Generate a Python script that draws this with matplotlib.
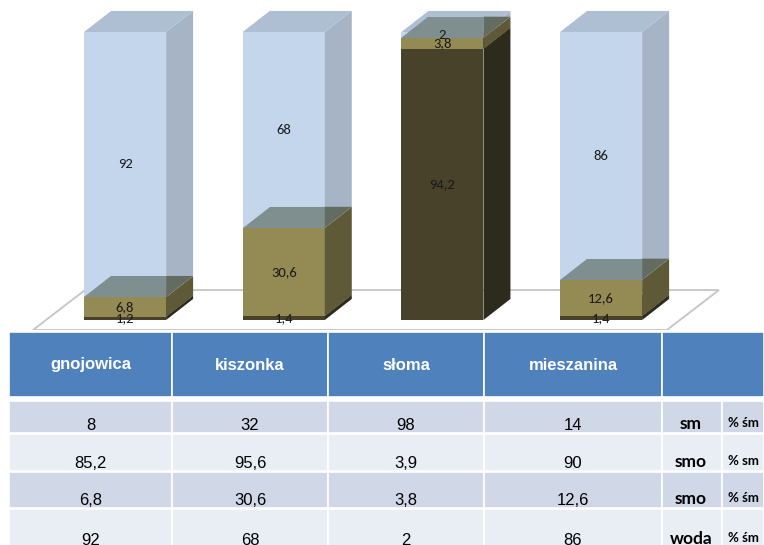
import matplotlib
matplotlib.use("Agg")
import matplotlib.pyplot as plt
from matplotlib.patches import Polygon, Rectangle

# ---- data
categories = ["gnojowica", "kiszonka", "słoma", "mieszanina"]
mineral = [1.2, 1.4, 94.2, 1.4]          # bottom (dark) segment
smo_sm_pct = [6.8, 30.6, 3.8, 12.6]      # smo % śm (olive)
water = [92, 68, 2, 86]                  # woda % śm (light blue)

row_names = ["sm", "smo", "smo", "woda"]
row_units = ["% śm", "% sm", "% śm", "% śm"]
table_rows = [
    [8, 32, 98, 14],
    [85.2, 95.6, 3.9, 90],
    [6.8, 30.6, 3.8, 12.6],
    [92, 68, 2, 86],
]

# ---- styles
SEGMENTS = [
    dict(vals=mineral, front="#48422b", side="#2d2b1c", top="#555035", clear=False),
    dict(vals=smo_sm_pct, front="#948a54", side="#5e5937", top="#a39a66", clear=False),
    dict(vals=water, front="#c3d6ec", side="#a6b4c6", top="#aebed3", clear=True),
]
SEEN_FRONT = "#7f8e8e"   # top of a segment seen through the clear one above
SEEN_SIDE = "#646c62"
BAR_W = 0.517
DX, DY = 0.170, 7.3
LABEL_FONT = ["Carlito", "Lato", "DejaVu Sans"]
NARROW = ["Liberation Sans Narrow", "Liberation Sans", "DejaVu Sans"]


def fmt(v):
    return f"{v:g}".replace(".", ",")


fig = plt.figure(figsize=(7.64, 5.45), dpi=100)

# ---- 3D-look stacked bars
ax = fig.add_axes([0, 215 / 545, 1, 330 / 545])
ax.set_xlim(-0.788, 4.027)
ax.set_ylim(-3.47, 111.1)
ax.axis("off")

n = len(categories)
fl, fr = -0.58, n - 1 + 0.415
floor = Polygon([(fl, -3.47), (fr, -3.47), (fr + 0.328, 10.4), (fl + 0.328, 10.4)],
                closed=True, facecolor="white", edgecolor="#c8c8c8", lw=1.4, zorder=1)
ax.add_patch(floor)

for i in range(n):
    x0 = i - 0.258
    x1 = x0 + BAR_W
    base = 0.0
    labels = []
    for k, seg in enumerate(SEGMENTS):
        v = seg["vals"][i]
        y0, y1 = base, base + v
        z = 2 + k
        ax.add_patch(Polygon([(x0, y0), (x1, y0), (x1, y1), (x0, y1)],
                             facecolor=seg["front"], edgecolor="none", zorder=z))
        ax.add_patch(Polygon([(x1, y0), (x1 + DX, y0 + DY), (x1 + DX, y1 + DY), (x1, y1)],
                             facecolor=seg["side"], edgecolor="none", zorder=z))
        ax.add_patch(Polygon([(x0, y1), (x1, y1), (x1 + DX, y1 + DY), (x0 + DX, y1 + DY)],
                             facecolor=seg["top"], edgecolor="none", zorder=z))
        if seg["clear"]:
            # top of the segment below, visible through this one
            ax.add_patch(Polygon([(x0, y0), (x1, y0), (x1, y0 + DY), (x0 + DX, y0 + DY)],
                                 facecolor=SEEN_FRONT, edgecolor="none", zorder=z + 0.5))
            ax.add_patch(Polygon([(x1, y0), (x1 + DX, y0 + DY), (x1, y0 + DY)],
                                 facecolor=SEEN_SIDE, edgecolor="none", zorder=z + 0.5))
        labels.append((fmt(v), (y0 + y1) / 2))
        base = y1
    for txt, ym in labels:
        ax.text(i, ym, txt, ha="center", va="center", fontsize=10.5,
                family=LABEL_FONT, color="#1a1a1a", zorder=10)

# ---- data table
axt = fig.add_axes([0, 0, 1, 215 / 545])
axt.set_xlim(0, 764)
axt.set_ylim(545, 330)
axt.axis("off")

col_edges = [9, 172, 328, 484, 662, 764]
unit_split = 722
head_top, head_bot = 332, 397
row_tops = [401, 434, 472, 509]
row_bots = [433, 471, 508, 548]
row_colors = ["#d0d8e8", "#e9edf4", "#d0d8e8", "#e9edf4"]

for c in range(len(col_edges) - 1):
    axt.add_patch(Rectangle((col_edges[c], head_top), col_edges[c + 1] - col_edges[c],
                            head_bot - head_top, facecolor="#4f81bd",
                            edgecolor="white", lw=1.2))
for c, name in enumerate(categories):
    axt.text((col_edges[c] + col_edges[c + 1]) / 2, 365, name, ha="center",
             va="center", fontsize=12, fontweight="bold", color="white", family=NARROW)

for r, vals in enumerate(table_rows):
    t, b = row_tops[r], row_bots[r]
    edges = col_edges[:-1] + [unit_split, col_edges[-1]]
    for c in range(len(edges) - 1):
        axt.add_patch(Rectangle((edges[c], t), edges[c + 1] - edges[c], b - t,
                                facecolor=row_colors[r], edgecolor="white", lw=1.2))
    for c, v in enumerate(vals):
        axt.text((col_edges[c] + col_edges[c + 1]) / 2, b - 3, fmt(v), ha="center",
                 va="baseline", fontsize=12, color="black", family=NARROW)
    axt.text(691, b - 4, row_names[r], ha="center", va="baseline", fontsize=12.5,
             fontweight="bold", color="black", family=["Lato", "DejaVu Sans"])
    axt.text(743, b - 6, row_units[r], ha="center", va="baseline", fontsize=9.5,
             fontweight="bold", color="black", family=["Lato", "DejaVu Sans"])

fig.savefig("out.png", dpi=100)
